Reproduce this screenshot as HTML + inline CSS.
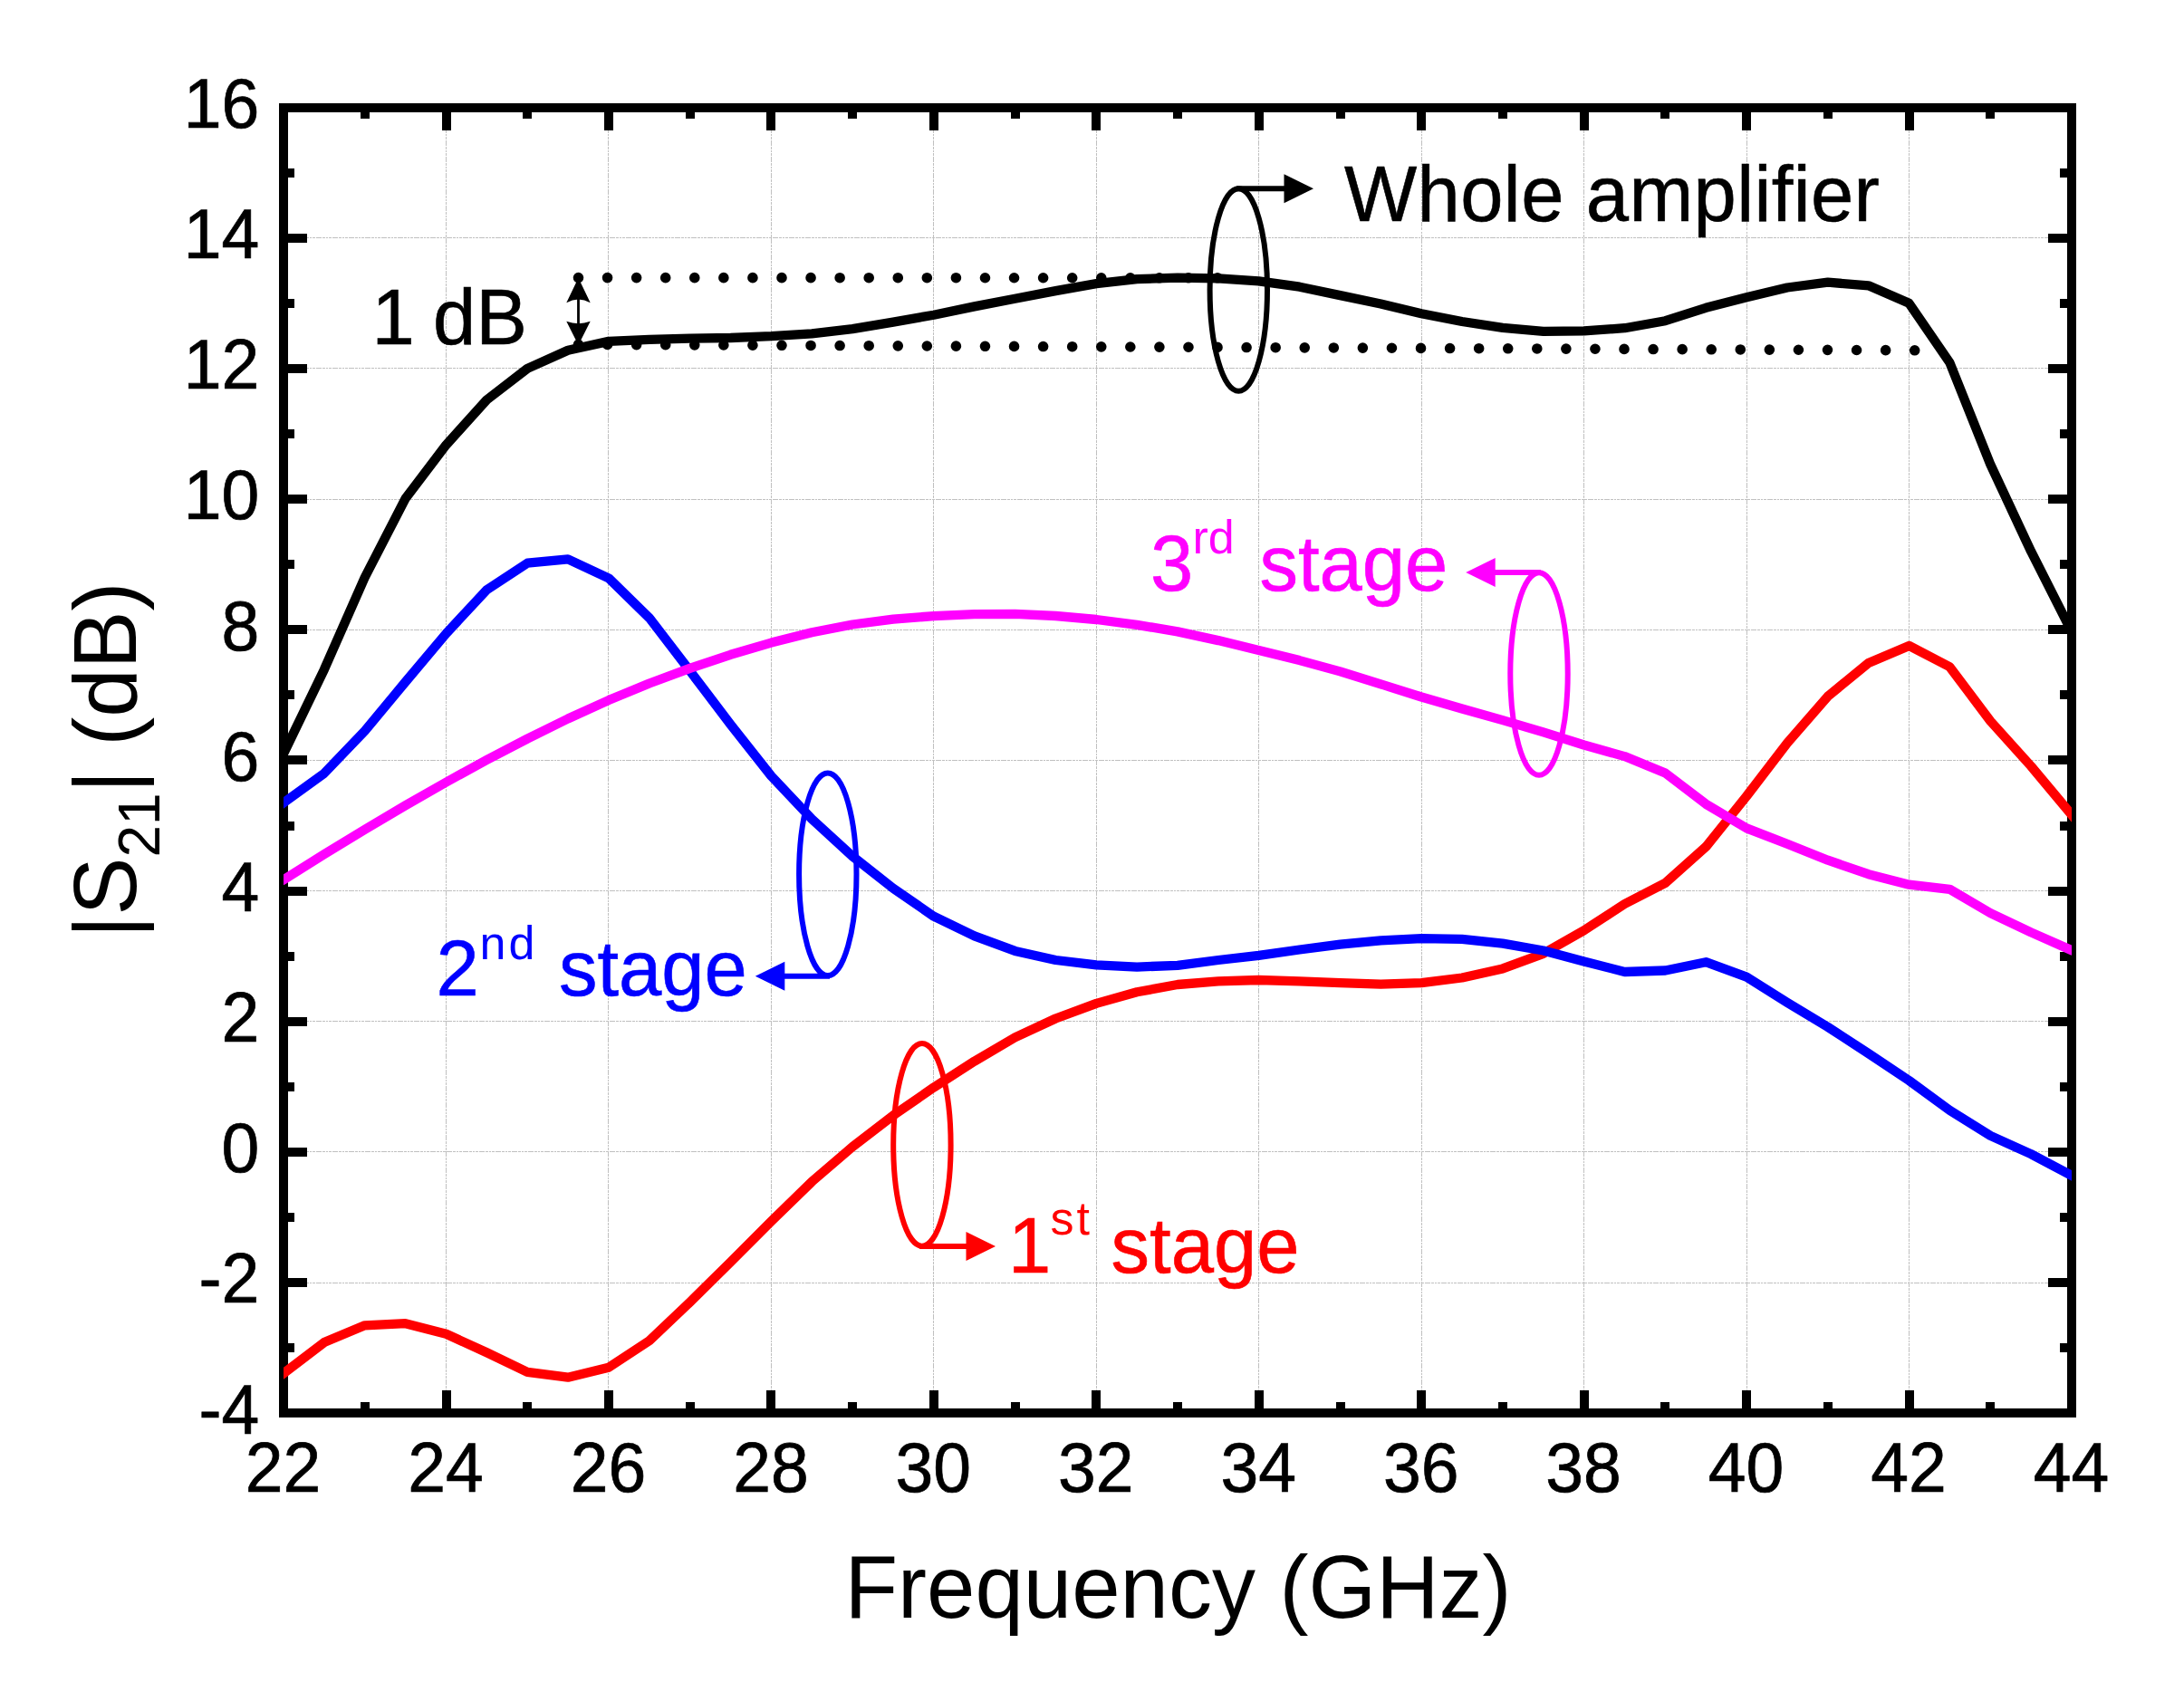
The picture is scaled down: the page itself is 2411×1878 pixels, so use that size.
<!DOCTYPE html>
<html lang="en"><head><meta charset="utf-8"><title>|S21| (dB) versus Frequency (GHz)</title>
<style>
html,body{margin:0;padding:0;background:#fff;}
body{width:2411px;height:1878px;overflow:hidden;}
svg{display:block;}
text{font-family:"Liberation Sans",sans-serif;}
.tick{font-size:74px;stroke:#000;stroke-width:0.7px;}
.title{font-size:96px;fill:#000;}
.ann{font-size:85px;stroke-width:0.6px;}
.sup{font-size:52px;font-family:"Liberation Sans",sans-serif;}
</style></head><body>
<svg width="2411" height="1878" viewBox="0 0 2411 1878">
<rect x="0" y="0" width="2411" height="1878" fill="#ffffff"/>
<defs><clipPath id="plot"><rect x="313.0" y="118.5" width="1974.0" height="1441.3"/></clipPath></defs>
<g stroke="#c0c0c0" stroke-width="1" stroke-dasharray="6 1 3 1 2 1 3 1" fill="none" shape-rendering="crispEdges">
<line x1="492.5" y1="118.5" x2="492.5" y2="1559.8"/>
<line x1="671.9" y1="118.5" x2="671.9" y2="1559.8"/>
<line x1="851.4" y1="118.5" x2="851.4" y2="1559.8"/>
<line x1="1030.8" y1="118.5" x2="1030.8" y2="1559.8"/>
<line x1="1210.3" y1="118.5" x2="1210.3" y2="1559.8"/>
<line x1="1389.7" y1="118.5" x2="1389.7" y2="1559.8"/>
<line x1="1569.2" y1="118.5" x2="1569.2" y2="1559.8"/>
<line x1="1748.6" y1="118.5" x2="1748.6" y2="1559.8"/>
<line x1="1928.1" y1="118.5" x2="1928.1" y2="1559.8"/>
<line x1="2107.5" y1="118.5" x2="2107.5" y2="1559.8"/>
<line x1="313.0" y1="1416.1" x2="2287.0" y2="1416.1"/>
<line x1="313.0" y1="1271.9" x2="2287.0" y2="1271.9"/>
<line x1="313.0" y1="1127.8" x2="2287.0" y2="1127.8"/>
<line x1="313.0" y1="983.6" x2="2287.0" y2="983.6"/>
<line x1="313.0" y1="839.4" x2="2287.0" y2="839.4"/>
<line x1="313.0" y1="695.2" x2="2287.0" y2="695.2"/>
<line x1="313.0" y1="551.0" x2="2287.0" y2="551.0"/>
<line x1="313.0" y1="406.9" x2="2287.0" y2="406.9"/>
<line x1="313.0" y1="262.7" x2="2287.0" y2="262.7"/>
</g>
<g stroke="#000" stroke-width="10.0" fill="none" shape-rendering="crispEdges">
<rect x="313.0" y="118.5" width="1974.0" height="1441.3"/>
<line x1="402.7" y1="1559.8" x2="402.7" y2="1548.1"/>
<line x1="402.7" y1="118.5" x2="402.7" y2="130.9"/>
<line x1="492.5" y1="1559.8" x2="492.5" y2="1535.3"/>
<line x1="492.5" y1="118.5" x2="492.5" y2="143.7"/>
<line x1="582.2" y1="1559.8" x2="582.2" y2="1548.1"/>
<line x1="582.2" y1="118.5" x2="582.2" y2="130.9"/>
<line x1="671.9" y1="1559.8" x2="671.9" y2="1535.3"/>
<line x1="671.9" y1="118.5" x2="671.9" y2="143.7"/>
<line x1="761.6" y1="1559.8" x2="761.6" y2="1548.1"/>
<line x1="761.6" y1="118.5" x2="761.6" y2="130.9"/>
<line x1="851.4" y1="1559.8" x2="851.4" y2="1535.3"/>
<line x1="851.4" y1="118.5" x2="851.4" y2="143.7"/>
<line x1="941.1" y1="1559.8" x2="941.1" y2="1548.1"/>
<line x1="941.1" y1="118.5" x2="941.1" y2="130.9"/>
<line x1="1030.8" y1="1559.8" x2="1030.8" y2="1535.3"/>
<line x1="1030.8" y1="118.5" x2="1030.8" y2="143.7"/>
<line x1="1120.5" y1="1559.8" x2="1120.5" y2="1548.1"/>
<line x1="1120.5" y1="118.5" x2="1120.5" y2="130.9"/>
<line x1="1210.3" y1="1559.8" x2="1210.3" y2="1535.3"/>
<line x1="1210.3" y1="118.5" x2="1210.3" y2="143.7"/>
<line x1="1300.0" y1="1559.8" x2="1300.0" y2="1548.1"/>
<line x1="1300.0" y1="118.5" x2="1300.0" y2="130.9"/>
<line x1="1389.7" y1="1559.8" x2="1389.7" y2="1535.3"/>
<line x1="1389.7" y1="118.5" x2="1389.7" y2="143.7"/>
<line x1="1479.5" y1="1559.8" x2="1479.5" y2="1548.1"/>
<line x1="1479.5" y1="118.5" x2="1479.5" y2="130.9"/>
<line x1="1569.2" y1="1559.8" x2="1569.2" y2="1535.3"/>
<line x1="1569.2" y1="118.5" x2="1569.2" y2="143.7"/>
<line x1="1658.9" y1="1559.8" x2="1658.9" y2="1548.1"/>
<line x1="1658.9" y1="118.5" x2="1658.9" y2="130.9"/>
<line x1="1748.6" y1="1559.8" x2="1748.6" y2="1535.3"/>
<line x1="1748.6" y1="118.5" x2="1748.6" y2="143.7"/>
<line x1="1838.4" y1="1559.8" x2="1838.4" y2="1548.1"/>
<line x1="1838.4" y1="118.5" x2="1838.4" y2="130.9"/>
<line x1="1928.1" y1="1559.8" x2="1928.1" y2="1535.3"/>
<line x1="1928.1" y1="118.5" x2="1928.1" y2="143.7"/>
<line x1="2017.8" y1="1559.8" x2="2017.8" y2="1548.1"/>
<line x1="2017.8" y1="118.5" x2="2017.8" y2="130.9"/>
<line x1="2107.5" y1="1559.8" x2="2107.5" y2="1535.3"/>
<line x1="2107.5" y1="118.5" x2="2107.5" y2="143.7"/>
<line x1="2197.3" y1="1559.8" x2="2197.3" y2="1548.1"/>
<line x1="2197.3" y1="118.5" x2="2197.3" y2="130.9"/>
<line x1="313.0" y1="1488.2" x2="325.2" y2="1488.2"/>
<line x1="2287.0" y1="1488.2" x2="2274.1" y2="1488.2"/>
<line x1="313.0" y1="1416.1" x2="338.6" y2="1416.1"/>
<line x1="2287.0" y1="1416.1" x2="2261.1" y2="1416.1"/>
<line x1="313.0" y1="1344.0" x2="325.2" y2="1344.0"/>
<line x1="2287.0" y1="1344.0" x2="2274.1" y2="1344.0"/>
<line x1="313.0" y1="1271.9" x2="338.6" y2="1271.9"/>
<line x1="2287.0" y1="1271.9" x2="2261.1" y2="1271.9"/>
<line x1="313.0" y1="1199.9" x2="325.2" y2="1199.9"/>
<line x1="2287.0" y1="1199.9" x2="2274.1" y2="1199.9"/>
<line x1="313.0" y1="1127.8" x2="338.6" y2="1127.8"/>
<line x1="2287.0" y1="1127.8" x2="2261.1" y2="1127.8"/>
<line x1="313.0" y1="1055.7" x2="325.2" y2="1055.7"/>
<line x1="2287.0" y1="1055.7" x2="2274.1" y2="1055.7"/>
<line x1="313.0" y1="983.6" x2="338.6" y2="983.6"/>
<line x1="2287.0" y1="983.6" x2="2261.1" y2="983.6"/>
<line x1="313.0" y1="911.5" x2="325.2" y2="911.5"/>
<line x1="2287.0" y1="911.5" x2="2274.1" y2="911.5"/>
<line x1="313.0" y1="839.4" x2="338.6" y2="839.4"/>
<line x1="2287.0" y1="839.4" x2="2261.1" y2="839.4"/>
<line x1="313.0" y1="767.3" x2="325.2" y2="767.3"/>
<line x1="2287.0" y1="767.3" x2="2274.1" y2="767.3"/>
<line x1="313.0" y1="695.2" x2="338.6" y2="695.2"/>
<line x1="2287.0" y1="695.2" x2="2261.1" y2="695.2"/>
<line x1="313.0" y1="623.1" x2="325.2" y2="623.1"/>
<line x1="2287.0" y1="623.1" x2="2274.1" y2="623.1"/>
<line x1="313.0" y1="551.0" x2="338.6" y2="551.0"/>
<line x1="2287.0" y1="551.0" x2="2261.1" y2="551.0"/>
<line x1="313.0" y1="479.0" x2="325.2" y2="479.0"/>
<line x1="2287.0" y1="479.0" x2="2274.1" y2="479.0"/>
<line x1="313.0" y1="406.9" x2="338.6" y2="406.9"/>
<line x1="2287.0" y1="406.9" x2="2261.1" y2="406.9"/>
<line x1="313.0" y1="334.8" x2="325.2" y2="334.8"/>
<line x1="2287.0" y1="334.8" x2="2274.1" y2="334.8"/>
<line x1="313.0" y1="262.7" x2="338.6" y2="262.7"/>
<line x1="2287.0" y1="262.7" x2="2261.1" y2="262.7"/>
<line x1="313.0" y1="190.6" x2="325.2" y2="190.6"/>
<line x1="2287.0" y1="190.6" x2="2274.1" y2="190.6"/>
</g>
<g stroke="#000" stroke-width="11.6" stroke-linecap="round" fill="none">
<line x1="638.50" y1="306.6" x2="1345.04" y2="306.8" stroke-dasharray="0 32.07"/>
<line x1="638.50" y1="380.3" x2="2114.72" y2="386.8" stroke-dasharray="0 32.07"/>
</g>
<g fill="none" stroke-width="10.3" stroke-linejoin="round" clip-path="url(#plot)">
<polyline stroke="#000000" points="301.0,857.1 313.0,832.2 357.9,739.2 402.7,637.5 447.6,550.3 492.5,491.2 537.3,441.5 582.2,406.9 627.0,386.7 671.9,376.9 716.8,374.8 761.6,373.7 806.5,373.0 851.4,371.2 896.2,368.3 941.1,363.2 986.0,355.7 1030.8,347.7 1075.7,338.4 1120.5,329.7 1165.4,321.1 1210.3,313.1 1255.1,308.1 1300.0,306.7 1344.9,307.4 1389.7,310.3 1434.6,316.7 1479.5,326.1 1524.3,335.5 1569.2,346.3 1614.0,355.0 1658.9,361.8 1703.8,365.8 1748.6,365.4 1793.5,362.2 1838.4,354.2 1883.2,339.8 1928.1,328.3 1973.0,317.5 2017.8,311.7 2062.7,315.3 2107.5,334.8 2152.4,400.4 2197.3,512.8 2242.1,608.7 2287.0,697.4 2299.0,721.1"/>
<polyline stroke="#ff0000" points="301.0,1525.5 313.0,1516.3 357.9,1482.1 402.7,1463.3 447.6,1461.2 492.5,1472.7 537.3,1493.3 582.2,1514.9 627.0,1520.7 671.9,1509.8 716.8,1480.3 761.6,1437.7 806.5,1393.4 851.4,1348.4 896.2,1304.7 941.1,1266.2 986.0,1231.6 1030.8,1200.6 1075.7,1171.7 1120.5,1145.4 1165.4,1124.5 1210.3,1107.9 1255.1,1095.3 1300.0,1087.0 1344.9,1083.4 1389.7,1082.0 1434.6,1083.4 1479.5,1085.2 1524.3,1086.7 1569.2,1085.2 1614.0,1079.5 1658.9,1069.4 1703.8,1052.8 1748.6,1027.2 1793.5,998.0 1838.4,974.9 1883.2,934.9 1928.1,879.0 1973.0,820.3 2017.8,768.8 2062.7,732.0 2107.5,712.9 2152.4,736.3 2197.3,796.1 2242.1,845.9 2287.0,899.6 2299.0,914.0"/>
<polyline stroke="#0000ff" points="301.0,894.9 313.0,886.3 357.9,853.8 402.7,807.0 447.6,752.9 492.5,699.5 537.3,651.2 582.2,621.7 627.0,617.4 671.9,638.3 716.8,682.2 761.6,740.6 806.5,799.8 851.4,856.7 896.2,904.3 941.1,945.4 986.0,980.7 1030.8,1011.7 1075.7,1033.3 1120.5,1049.9 1165.4,1060.0 1210.3,1065.4 1255.1,1067.6 1300.0,1065.8 1344.9,1060.0 1389.7,1054.9 1434.6,1048.5 1479.5,1042.7 1524.3,1038.4 1569.2,1036.2 1614.0,1036.9 1658.9,1041.6 1703.8,1049.5 1748.6,1061.4 1793.5,1073.0 1838.4,1071.5 1883.2,1062.2 1928.1,1078.7 1973.0,1106.9 2017.8,1133.9 2062.7,1163.1 2107.5,1193.0 2152.4,1225.8 2197.3,1253.9 2242.1,1274.1 2287.0,1297.9 2299.0,1304.3"/>
<polyline stroke="#ff00ff" points="301.0,978.8 313.0,971.3 357.9,943.2 402.7,915.8 447.6,889.2 492.5,863.6 537.3,839.0 582.2,815.6 627.0,793.5 671.9,773.1 716.8,754.5 761.6,737.8 806.5,722.8 851.4,709.6 896.2,698.3 941.1,689.5 986.0,683.6 1030.8,680.1 1075.7,678.1 1120.5,677.9 1165.4,680.0 1210.3,684.0 1255.1,689.8 1300.0,697.4 1344.9,707.1 1389.7,717.9 1434.6,729.1 1479.5,741.4 1524.3,755.3 1569.2,769.5 1614.0,782.5 1658.9,795.1 1703.8,808.4 1748.6,822.5 1793.5,835.1 1838.4,853.5 1883.2,887.7 1928.1,914.4 1973.0,931.7 2017.8,949.7 2062.7,965.2 2107.5,976.7 2152.4,981.8 2197.3,1008.1 2242.1,1029.4 2287.0,1049.2 2299.0,1054.5"/>
</g>
<g fill="#000" stroke="none">
<rect x="637.1" y="320" width="2.8" height="48"/>
<path d="M638.5 306.7 L651.7 334.2 Q645 330.6 638.5 330.6 Q632 330.6 625.3 334.2 Z"/>
<path d="M638.5 381 L651.7 354.8 Q645 357.2 638.5 357.2 Q632 357.2 625.3 354.8 Z"/>
</g>
<ellipse cx="1367.3" cy="320.0" rx="31.7" ry="111.8" fill="none" stroke="#000" stroke-width="6.0"/>
<path d="M1365.0 208.2 L1418.5 208.2" stroke="#000" stroke-width="6.0" fill="none"/>
<path d="M1450.0 208.2 L1417.5 192.2 L1417.5 224.2 Z" fill="#000"/>
<ellipse cx="1699.0" cy="744.0" rx="31.7" ry="111.8" fill="none" stroke="#ff00ff" stroke-width="6.0"/>
<path d="M1701.0 632.0 L1649.7 632.0" stroke="#ff00ff" stroke-width="6.0" fill="none"/>
<path d="M1618.2 632.0 L1650.7 616.0 L1650.7 648.0 Z" fill="#ff00ff"/>
<ellipse cx="913.8" cy="965.3" rx="31.7" ry="111.8" fill="none" stroke="#0000ff" stroke-width="6.0"/>
<path d="M916.0 1077.8 L865.3 1077.8" stroke="#0000ff" stroke-width="6.0" fill="none"/>
<path d="M833.8 1077.8 L866.3 1061.8 L866.3 1093.8 Z" fill="#0000ff"/>
<ellipse cx="1017.9" cy="1263.9" rx="31.7" ry="111.8" fill="none" stroke="#ff0000" stroke-width="6.0"/>
<path d="M1015.1 1375.9 L1067.5 1375.9" stroke="#ff0000" stroke-width="6.0" fill="none"/>
<path d="M1099.0 1375.9 L1066.5 1359.9 L1066.5 1391.9 Z" fill="#ff0000"/>
<g transform="translate(1484.0 244.1) scale(1.000 1.025)"><text class="ann" fill="#000" letter-spacing="0.38" stroke="#000">Whole amplifier</text></g>
<g transform="translate(410.4 379.9) scale(1.000 1.025)"><text class="ann" fill="#000" stroke="#000">1</text></g>
<g transform="translate(478.1 379.9) scale(1.000 1.025)"><text class="ann" fill="#000" stroke="#000">dB</text></g>
<g transform="translate(1270.0 651.9) scale(1.000 1.025)"><text class="ann" fill="#ff00ff" stroke="#ff00ff">3</text></g>
<text class="sup" x="1316.4" y="610.7" fill="#ff00ff">rd</text>
<g transform="translate(1390.4 651.9) scale(1.000 1.025)"><text class="ann" fill="#ff00ff" stroke="#ff00ff">stage</text></g>
<g transform="translate(481.5 1098.8) scale(1.000 1.025)"><text class="ann" fill="#0000ff" stroke="#0000ff">2</text></g>
<text class="sup" x="529.6" y="1059.2" fill="#0000ff" letter-spacing="3">nd</text>
<g transform="translate(617.0 1098.8) scale(1.000 1.025)"><text class="ann" fill="#0000ff" stroke="#0000ff">stage</text></g>
<g transform="translate(1113.0 1404.8) scale(1.000 1.025)"><text class="ann" fill="#ff0000" stroke="#ff0000">1</text></g>
<text class="sup" x="1159.4" y="1363.4" fill="#ff0000" letter-spacing="3">st</text>
<g transform="translate(1226.6 1404.8) scale(1.000 1.025)"><text class="ann" fill="#ff0000" stroke="#ff0000">stage</text></g>
<g transform="translate(312.5 1646.9) scale(1.015 1.040)"><text class="tick" fill="#000" text-anchor="middle">22</text></g>
<g transform="translate(492.0 1646.9) scale(1.015 1.040)"><text class="tick" fill="#000" text-anchor="middle">24</text></g>
<g transform="translate(671.4 1646.9) scale(1.015 1.040)"><text class="tick" fill="#000" text-anchor="middle">26</text></g>
<g transform="translate(850.9 1646.9) scale(1.015 1.040)"><text class="tick" fill="#000" text-anchor="middle">28</text></g>
<g transform="translate(1030.3 1646.9) scale(1.015 1.040)"><text class="tick" fill="#000" text-anchor="middle">30</text></g>
<g transform="translate(1209.8 1646.9) scale(1.015 1.040)"><text class="tick" fill="#000" text-anchor="middle">32</text></g>
<g transform="translate(1389.2 1646.9) scale(1.015 1.040)"><text class="tick" fill="#000" text-anchor="middle">34</text></g>
<g transform="translate(1568.7 1646.9) scale(1.015 1.040)"><text class="tick" fill="#000" text-anchor="middle">36</text></g>
<g transform="translate(1748.1 1646.9) scale(1.015 1.040)"><text class="tick" fill="#000" text-anchor="middle">38</text></g>
<g transform="translate(1927.6 1646.9) scale(1.015 1.040)"><text class="tick" fill="#000" text-anchor="middle">40</text></g>
<g transform="translate(2107.0 1646.9) scale(1.015 1.040)"><text class="tick" fill="#000" text-anchor="middle">42</text></g>
<g transform="translate(2286.5 1646.9) scale(1.015 1.040)"><text class="tick" fill="#000" text-anchor="middle">44</text></g>
<g transform="translate(286.3 1582.6) scale(1.015 1.040)"><text class="tick" fill="#000" text-anchor="end">-4</text></g>
<g transform="translate(286.3 1438.4) scale(1.015 1.040)"><text class="tick" fill="#000" text-anchor="end">-2</text></g>
<g transform="translate(286.3 1294.2) scale(1.015 1.040)"><text class="tick" fill="#000" text-anchor="end">0</text></g>
<g transform="translate(286.3 1150.1) scale(1.015 1.040)"><text class="tick" fill="#000" text-anchor="end">2</text></g>
<g transform="translate(286.3 1005.9) scale(1.015 1.040)"><text class="tick" fill="#000" text-anchor="end">4</text></g>
<g transform="translate(286.3 861.7) scale(1.015 1.040)"><text class="tick" fill="#000" text-anchor="end">6</text></g>
<g transform="translate(286.3 717.5) scale(1.015 1.040)"><text class="tick" fill="#000" text-anchor="end">8</text></g>
<g transform="translate(286.3 573.3) scale(1.015 1.040)"><text class="tick" fill="#000" text-anchor="end">10</text></g>
<g transform="translate(286.3 429.2) scale(1.015 1.040)"><text class="tick" fill="#000" text-anchor="end">12</text></g>
<g transform="translate(286.3 285.0) scale(1.015 1.040)"><text class="tick" fill="#000" text-anchor="end">14</text></g>
<g transform="translate(286.3 140.8) scale(1.015 1.040)"><text class="tick" fill="#000" text-anchor="end">16</text></g>
<g transform="translate(1300.5 1785.9) scale(1.000 1.025)"><text class="title" fill="#000" text-anchor="middle">Frequency (GHz)</text></g>
<g transform="translate(150.2 1035.5) rotate(-90) scale(1 1.025)"><text class="title">|S<tspan font-size="64" dy="25">21</tspan><tspan dy="-25">| (dB)</tspan></text></g>
</svg>
</body></html>
